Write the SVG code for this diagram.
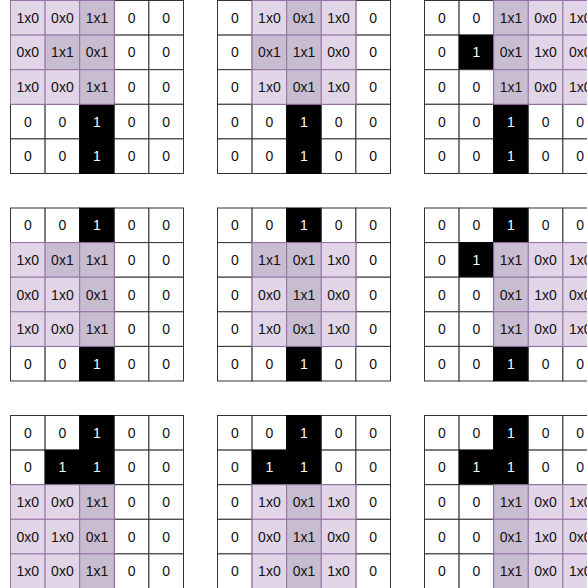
<svg xmlns="http://www.w3.org/2000/svg" width="587" height="588" viewBox="0 0 587 588">
<style>
rect{width:34.6px;height:34.6px;stroke-width:1}
.w{fill:#ffffff;stroke:#333333}
.k{fill:#000000;stroke:#000000}
.p{fill:#e1d5e7;stroke:#9673a6}
.d{fill:#c8bcd0;stroke:#9673a6}
text{font-family:"Liberation Sans",Arial,Helvetica,sans-serif;font-size:14px;text-anchor:middle;fill:#111111}
.tw{fill:#ffffff}
</style>
<rect x="0" y="0" width="587" height="588" style="width:587px;height:588px;fill:#ffffff;stroke:none"/>
<g id="connectors"/>

<g id="grid1" transform="translate(10.5,0.5)">
<rect class="w" x="103.8" y="0"/><rect class="w" x="138.4" y="0"/>
<rect class="w" x="103.8" y="34.6"/><rect class="w" x="138.4" y="34.6"/>
<rect class="w" x="103.8" y="69.2"/><rect class="w" x="138.4" y="69.2"/>
<rect class="w" x="0" y="103.8"/><rect class="w" x="34.6" y="103.8"/><rect class="k" x="69.2" y="103.8"/><rect class="w" x="103.8" y="103.8"/><rect class="w" x="138.4" y="103.8"/>
<rect class="w" x="0" y="138.4"/><rect class="w" x="34.6" y="138.4"/><rect class="k" x="69.2" y="138.4"/><rect class="w" x="103.8" y="138.4"/><rect class="w" x="138.4" y="138.4"/>
<rect class="p" x="0" y="0"/><rect class="p" x="34.6" y="0"/><rect class="d" x="69.2" y="0"/>
<rect class="p" x="0" y="34.6"/><rect class="d" x="34.6" y="34.6"/><rect class="d" x="69.2" y="34.6"/>
<rect class="p" x="0" y="69.2"/><rect class="p" x="34.6" y="69.2"/><rect class="d" x="69.2" y="69.2"/>
<text y="22.3"><tspan x="17.3">1x0</tspan><tspan x="51.9">0x0</tspan><tspan x="86.5">1x1</tspan><tspan x="121.1">0</tspan><tspan x="155.7">0</tspan></text>
<text y="56.9"><tspan x="17.3">0x0</tspan><tspan x="51.9">1x1</tspan><tspan x="86.5">0x1</tspan><tspan x="121.1">0</tspan><tspan x="155.7">0</tspan></text>
<text y="91.5"><tspan x="17.3">1x0</tspan><tspan x="51.9">0x0</tspan><tspan x="86.5">1x1</tspan><tspan x="121.1">0</tspan><tspan x="155.7">0</tspan></text>
<text y="126.1"><tspan x="17.3">0</tspan><tspan x="51.9">0</tspan><tspan x="86.5" class="tw">1</tspan><tspan x="121.1">0</tspan><tspan x="155.7">0</tspan></text>
<text y="160.7"><tspan x="17.3">0</tspan><tspan x="51.9">0</tspan><tspan x="86.5" class="tw">1</tspan><tspan x="121.1">0</tspan><tspan x="155.7">0</tspan></text>
</g>

<g id="grid2" transform="translate(217.5,0.5)">
<rect class="w" x="0" y="0"/><rect class="w" x="138.4" y="0"/>
<rect class="w" x="0" y="34.6"/><rect class="w" x="138.4" y="34.6"/>
<rect class="w" x="0" y="69.2"/><rect class="w" x="138.4" y="69.2"/>
<rect class="w" x="0" y="103.8"/><rect class="w" x="34.6" y="103.8"/><rect class="k" x="69.2" y="103.8"/><rect class="w" x="103.8" y="103.8"/><rect class="w" x="138.4" y="103.8"/>
<rect class="w" x="0" y="138.4"/><rect class="w" x="34.6" y="138.4"/><rect class="k" x="69.2" y="138.4"/><rect class="w" x="103.8" y="138.4"/><rect class="w" x="138.4" y="138.4"/>
<rect class="p" x="34.6" y="0"/><rect class="d" x="69.2" y="0"/><rect class="p" x="103.8" y="0"/>
<rect class="d" x="34.6" y="34.6"/><rect class="d" x="69.2" y="34.6"/><rect class="p" x="103.8" y="34.6"/>
<rect class="p" x="34.6" y="69.2"/><rect class="d" x="69.2" y="69.2"/><rect class="p" x="103.8" y="69.2"/>
<text y="22.3"><tspan x="17.3">0</tspan><tspan x="51.9">1x0</tspan><tspan x="86.5">0x1</tspan><tspan x="121.1">1x0</tspan><tspan x="155.7">0</tspan></text>
<text y="56.9"><tspan x="17.3">0</tspan><tspan x="51.9">0x1</tspan><tspan x="86.5">1x1</tspan><tspan x="121.1">0x0</tspan><tspan x="155.7">0</tspan></text>
<text y="91.5"><tspan x="17.3">0</tspan><tspan x="51.9">1x0</tspan><tspan x="86.5">0x1</tspan><tspan x="121.1">1x0</tspan><tspan x="155.7">0</tspan></text>
<text y="126.1"><tspan x="17.3">0</tspan><tspan x="51.9">0</tspan><tspan x="86.5" class="tw">1</tspan><tspan x="121.1">0</tspan><tspan x="155.7">0</tspan></text>
<text y="160.7"><tspan x="17.3">0</tspan><tspan x="51.9">0</tspan><tspan x="86.5" class="tw">1</tspan><tspan x="121.1">0</tspan><tspan x="155.7">0</tspan></text>
</g>

<g id="grid3" transform="translate(424.5,0.5)">
<rect class="w" x="0" y="0"/><rect class="w" x="34.6" y="0"/>
<rect class="w" x="0" y="34.6"/><rect class="k" x="34.6" y="34.6"/>
<rect class="w" x="0" y="69.2"/><rect class="w" x="34.6" y="69.2"/>
<rect class="w" x="0" y="103.8"/><rect class="w" x="34.6" y="103.8"/><rect class="k" x="69.2" y="103.8"/><rect class="w" x="103.8" y="103.8"/><rect class="w" x="138.4" y="103.8"/>
<rect class="w" x="0" y="138.4"/><rect class="w" x="34.6" y="138.4"/><rect class="k" x="69.2" y="138.4"/><rect class="w" x="103.8" y="138.4"/><rect class="w" x="138.4" y="138.4"/>
<rect class="d" x="69.2" y="0"/><rect class="p" x="103.8" y="0"/><rect class="p" x="138.4" y="0"/>
<rect class="d" x="69.2" y="34.6"/><rect class="p" x="103.8" y="34.6"/><rect class="p" x="138.4" y="34.6"/>
<rect class="d" x="69.2" y="69.2"/><rect class="p" x="103.8" y="69.2"/><rect class="p" x="138.4" y="69.2"/>
<text y="22.3"><tspan x="17.3">0</tspan><tspan x="51.9">0</tspan><tspan x="86.5">1x1</tspan><tspan x="121.1">0x0</tspan><tspan x="155.7">1x0</tspan></text>
<text y="56.9"><tspan x="17.3">0</tspan><tspan x="51.9" class="tw">1</tspan><tspan x="86.5">0x1</tspan><tspan x="121.1">1x0</tspan><tspan x="155.7">0x0</tspan></text>
<text y="91.5"><tspan x="17.3">0</tspan><tspan x="51.9">0</tspan><tspan x="86.5">1x1</tspan><tspan x="121.1">0x0</tspan><tspan x="155.7">1x0</tspan></text>
<text y="126.1"><tspan x="17.3">0</tspan><tspan x="51.9">0</tspan><tspan x="86.5" class="tw">1</tspan><tspan x="121.1">0</tspan><tspan x="155.7">0</tspan></text>
<text y="160.7"><tspan x="17.3">0</tspan><tspan x="51.9">0</tspan><tspan x="86.5" class="tw">1</tspan><tspan x="121.1">0</tspan><tspan x="155.7">0</tspan></text>
</g>

<g id="grid4" transform="translate(10.5,208)">
<rect class="w" x="0" y="0"/><rect class="w" x="34.6" y="0"/><rect class="k" x="69.2" y="0"/><rect class="w" x="103.8" y="0"/><rect class="w" x="138.4" y="0"/>
<rect class="w" x="103.8" y="34.6"/><rect class="w" x="138.4" y="34.6"/>
<rect class="w" x="103.8" y="69.2"/><rect class="w" x="138.4" y="69.2"/>
<rect class="w" x="103.8" y="103.8"/><rect class="w" x="138.4" y="103.8"/>
<rect class="w" x="0" y="138.4"/><rect class="w" x="34.6" y="138.4"/><rect class="k" x="69.2" y="138.4"/><rect class="w" x="103.8" y="138.4"/><rect class="w" x="138.4" y="138.4"/>
<rect class="p" x="0" y="34.6"/><rect class="d" x="34.6" y="34.6"/><rect class="d" x="69.2" y="34.6"/>
<rect class="p" x="0" y="69.2"/><rect class="p" x="34.6" y="69.2"/><rect class="d" x="69.2" y="69.2"/>
<rect class="p" x="0" y="103.8"/><rect class="p" x="34.6" y="103.8"/><rect class="d" x="69.2" y="103.8"/>
<text y="22.3"><tspan x="17.3">0</tspan><tspan x="51.9">0</tspan><tspan x="86.5" class="tw">1</tspan><tspan x="121.1">0</tspan><tspan x="155.7">0</tspan></text>
<text y="56.9"><tspan x="17.3">1x0</tspan><tspan x="51.9">0x1</tspan><tspan x="86.5">1x1</tspan><tspan x="121.1">0</tspan><tspan x="155.7">0</tspan></text>
<text y="91.5"><tspan x="17.3">0x0</tspan><tspan x="51.9">1x0</tspan><tspan x="86.5">0x1</tspan><tspan x="121.1">0</tspan><tspan x="155.7">0</tspan></text>
<text y="126.1"><tspan x="17.3">1x0</tspan><tspan x="51.9">0x0</tspan><tspan x="86.5">1x1</tspan><tspan x="121.1">0</tspan><tspan x="155.7">0</tspan></text>
<text y="160.7"><tspan x="17.3">0</tspan><tspan x="51.9">0</tspan><tspan x="86.5" class="tw">1</tspan><tspan x="121.1">0</tspan><tspan x="155.7">0</tspan></text>
</g>

<g id="grid5" transform="translate(217.5,208)">
<rect class="w" x="0" y="0"/><rect class="w" x="34.6" y="0"/><rect class="k" x="69.2" y="0"/><rect class="w" x="103.8" y="0"/><rect class="w" x="138.4" y="0"/>
<rect class="w" x="0" y="34.6"/><rect class="w" x="138.4" y="34.6"/>
<rect class="w" x="0" y="69.2"/><rect class="w" x="138.4" y="69.2"/>
<rect class="w" x="0" y="103.8"/><rect class="w" x="138.4" y="103.8"/>
<rect class="w" x="0" y="138.4"/><rect class="w" x="34.6" y="138.4"/><rect class="k" x="69.2" y="138.4"/><rect class="w" x="103.8" y="138.4"/><rect class="w" x="138.4" y="138.4"/>
<rect class="d" x="34.6" y="34.6"/><rect class="d" x="69.2" y="34.6"/><rect class="p" x="103.8" y="34.6"/>
<rect class="p" x="34.6" y="69.2"/><rect class="d" x="69.2" y="69.2"/><rect class="p" x="103.8" y="69.2"/>
<rect class="p" x="34.6" y="103.8"/><rect class="d" x="69.2" y="103.8"/><rect class="p" x="103.8" y="103.8"/>
<text y="22.3"><tspan x="17.3">0</tspan><tspan x="51.9">0</tspan><tspan x="86.5" class="tw">1</tspan><tspan x="121.1">0</tspan><tspan x="155.7">0</tspan></text>
<text y="56.9"><tspan x="17.3">0</tspan><tspan x="51.9">1x1</tspan><tspan x="86.5">0x1</tspan><tspan x="121.1">1x0</tspan><tspan x="155.7">0</tspan></text>
<text y="91.5"><tspan x="17.3">0</tspan><tspan x="51.9">0x0</tspan><tspan x="86.5">1x1</tspan><tspan x="121.1">0x0</tspan><tspan x="155.7">0</tspan></text>
<text y="126.1"><tspan x="17.3">0</tspan><tspan x="51.9">1x0</tspan><tspan x="86.5">0x1</tspan><tspan x="121.1">1x0</tspan><tspan x="155.7">0</tspan></text>
<text y="160.7"><tspan x="17.3">0</tspan><tspan x="51.9">0</tspan><tspan x="86.5" class="tw">1</tspan><tspan x="121.1">0</tspan><tspan x="155.7">0</tspan></text>
</g>

<g id="grid6" transform="translate(424.5,208)">
<rect class="w" x="0" y="0"/><rect class="w" x="34.6" y="0"/><rect class="k" x="69.2" y="0"/><rect class="w" x="103.8" y="0"/><rect class="w" x="138.4" y="0"/>
<rect class="w" x="0" y="34.6"/><rect class="k" x="34.6" y="34.6"/>
<rect class="w" x="0" y="69.2"/><rect class="w" x="34.6" y="69.2"/>
<rect class="w" x="0" y="103.8"/><rect class="w" x="34.6" y="103.8"/>
<rect class="w" x="0" y="138.4"/><rect class="w" x="34.6" y="138.4"/><rect class="k" x="69.2" y="138.4"/><rect class="w" x="103.8" y="138.4"/><rect class="w" x="138.4" y="138.4"/>
<rect class="d" x="69.2" y="34.6"/><rect class="p" x="103.8" y="34.6"/><rect class="p" x="138.4" y="34.6"/>
<rect class="d" x="69.2" y="69.2"/><rect class="p" x="103.8" y="69.2"/><rect class="p" x="138.4" y="69.2"/>
<rect class="d" x="69.2" y="103.8"/><rect class="p" x="103.8" y="103.8"/><rect class="p" x="138.4" y="103.8"/>
<text y="22.3"><tspan x="17.3">0</tspan><tspan x="51.9">0</tspan><tspan x="86.5" class="tw">1</tspan><tspan x="121.1">0</tspan><tspan x="155.7">0</tspan></text>
<text y="56.9"><tspan x="17.3">0</tspan><tspan x="51.9" class="tw">1</tspan><tspan x="86.5">1x1</tspan><tspan x="121.1">0x0</tspan><tspan x="155.7">1x0</tspan></text>
<text y="91.5"><tspan x="17.3">0</tspan><tspan x="51.9">0</tspan><tspan x="86.5">0x1</tspan><tspan x="121.1">1x0</tspan><tspan x="155.7">0x0</tspan></text>
<text y="126.1"><tspan x="17.3">0</tspan><tspan x="51.9">0</tspan><tspan x="86.5">1x1</tspan><tspan x="121.1">0x0</tspan><tspan x="155.7">1x0</tspan></text>
<text y="160.7"><tspan x="17.3">0</tspan><tspan x="51.9">0</tspan><tspan x="86.5" class="tw">1</tspan><tspan x="121.1">0</tspan><tspan x="155.7">0</tspan></text>
</g>

<g id="grid7" transform="translate(10.5,415.5)">
<rect class="w" x="0" y="0"/><rect class="w" x="34.6" y="0"/><rect class="k" x="69.2" y="0"/><rect class="w" x="103.8" y="0"/><rect class="w" x="138.4" y="0"/>
<rect class="w" x="0" y="34.6"/><rect class="k" x="34.6" y="34.6"/><rect class="k" x="69.2" y="34.6"/><rect class="w" x="103.8" y="34.6"/><rect class="w" x="138.4" y="34.6"/>
<rect class="w" x="103.8" y="69.2"/><rect class="w" x="138.4" y="69.2"/>
<rect class="w" x="103.8" y="103.8"/><rect class="w" x="138.4" y="103.8"/>
<rect class="w" x="103.8" y="138.4"/><rect class="w" x="138.4" y="138.4"/>
<rect class="p" x="0" y="69.2"/><rect class="p" x="34.6" y="69.2"/><rect class="d" x="69.2" y="69.2"/>
<rect class="p" x="0" y="103.8"/><rect class="p" x="34.6" y="103.8"/><rect class="d" x="69.2" y="103.8"/>
<rect class="p" x="0" y="138.4"/><rect class="p" x="34.6" y="138.4"/><rect class="d" x="69.2" y="138.4"/>
<text y="22.3"><tspan x="17.3">0</tspan><tspan x="51.9">0</tspan><tspan x="86.5" class="tw">1</tspan><tspan x="121.1">0</tspan><tspan x="155.7">0</tspan></text>
<text y="56.9"><tspan x="17.3">0</tspan><tspan x="51.9" class="tw">1</tspan><tspan x="86.5" class="tw">1</tspan><tspan x="121.1">0</tspan><tspan x="155.7">0</tspan></text>
<text y="91.5"><tspan x="17.3">1x0</tspan><tspan x="51.9">0x0</tspan><tspan x="86.5">1x1</tspan><tspan x="121.1">0</tspan><tspan x="155.7">0</tspan></text>
<text y="126.1"><tspan x="17.3">0x0</tspan><tspan x="51.9">1x0</tspan><tspan x="86.5">0x1</tspan><tspan x="121.1">0</tspan><tspan x="155.7">0</tspan></text>
<text y="160.7"><tspan x="17.3">1x0</tspan><tspan x="51.9">0x0</tspan><tspan x="86.5">1x1</tspan><tspan x="121.1">0</tspan><tspan x="155.7">0</tspan></text>
</g>

<g id="grid8" transform="translate(217.5,415.5)">
<rect class="w" x="0" y="0"/><rect class="w" x="34.6" y="0"/><rect class="k" x="69.2" y="0"/><rect class="w" x="103.8" y="0"/><rect class="w" x="138.4" y="0"/>
<rect class="w" x="0" y="34.6"/><rect class="k" x="34.6" y="34.6"/><rect class="k" x="69.2" y="34.6"/><rect class="w" x="103.8" y="34.6"/><rect class="w" x="138.4" y="34.6"/>
<rect class="w" x="0" y="69.2"/><rect class="w" x="138.4" y="69.2"/>
<rect class="w" x="0" y="103.8"/><rect class="w" x="138.4" y="103.8"/>
<rect class="w" x="0" y="138.4"/><rect class="w" x="138.4" y="138.4"/>
<rect class="p" x="34.6" y="69.2"/><rect class="d" x="69.2" y="69.2"/><rect class="p" x="103.8" y="69.2"/>
<rect class="p" x="34.6" y="103.8"/><rect class="d" x="69.2" y="103.8"/><rect class="p" x="103.8" y="103.8"/>
<rect class="p" x="34.6" y="138.4"/><rect class="d" x="69.2" y="138.4"/><rect class="p" x="103.8" y="138.4"/>
<text y="22.3"><tspan x="17.3">0</tspan><tspan x="51.9">0</tspan><tspan x="86.5" class="tw">1</tspan><tspan x="121.1">0</tspan><tspan x="155.7">0</tspan></text>
<text y="56.9"><tspan x="17.3">0</tspan><tspan x="51.9" class="tw">1</tspan><tspan x="86.5" class="tw">1</tspan><tspan x="121.1">0</tspan><tspan x="155.7">0</tspan></text>
<text y="91.5"><tspan x="17.3">0</tspan><tspan x="51.9">1x0</tspan><tspan x="86.5">0x1</tspan><tspan x="121.1">1x0</tspan><tspan x="155.7">0</tspan></text>
<text y="126.1"><tspan x="17.3">0</tspan><tspan x="51.9">0x0</tspan><tspan x="86.5">1x1</tspan><tspan x="121.1">0x0</tspan><tspan x="155.7">0</tspan></text>
<text y="160.7"><tspan x="17.3">0</tspan><tspan x="51.9">1x0</tspan><tspan x="86.5">0x1</tspan><tspan x="121.1">1x0</tspan><tspan x="155.7">0</tspan></text>
</g>

<g id="grid9" transform="translate(424.5,415.5)">
<rect class="w" x="0" y="0"/><rect class="w" x="34.6" y="0"/><rect class="k" x="69.2" y="0"/><rect class="w" x="103.8" y="0"/><rect class="w" x="138.4" y="0"/>
<rect class="w" x="0" y="34.6"/><rect class="k" x="34.6" y="34.6"/><rect class="k" x="69.2" y="34.6"/><rect class="w" x="103.8" y="34.6"/><rect class="w" x="138.4" y="34.6"/>
<rect class="w" x="0" y="69.2"/><rect class="w" x="34.6" y="69.2"/>
<rect class="w" x="0" y="103.8"/><rect class="w" x="34.6" y="103.8"/>
<rect class="w" x="0" y="138.4"/><rect class="w" x="34.6" y="138.4"/>
<rect class="d" x="69.2" y="69.2"/><rect class="p" x="103.8" y="69.2"/><rect class="p" x="138.4" y="69.2"/>
<rect class="d" x="69.2" y="103.8"/><rect class="p" x="103.8" y="103.8"/><rect class="p" x="138.4" y="103.8"/>
<rect class="d" x="69.2" y="138.4"/><rect class="p" x="103.8" y="138.4"/><rect class="p" x="138.4" y="138.4"/>
<text y="22.3"><tspan x="17.3">0</tspan><tspan x="51.9">0</tspan><tspan x="86.5" class="tw">1</tspan><tspan x="121.1">0</tspan><tspan x="155.7">0</tspan></text>
<text y="56.9"><tspan x="17.3">0</tspan><tspan x="51.9" class="tw">1</tspan><tspan x="86.5" class="tw">1</tspan><tspan x="121.1">0</tspan><tspan x="155.7">0</tspan></text>
<text y="91.5"><tspan x="17.3">0</tspan><tspan x="51.9">0</tspan><tspan x="86.5">1x1</tspan><tspan x="121.1">0x0</tspan><tspan x="155.7">1x0</tspan></text>
<text y="126.1"><tspan x="17.3">0</tspan><tspan x="51.9">0</tspan><tspan x="86.5">0x1</tspan><tspan x="121.1">1x0</tspan><tspan x="155.7">0x0</tspan></text>
<text y="160.7"><tspan x="17.3">0</tspan><tspan x="51.9">0</tspan><tspan x="86.5">1x1</tspan><tspan x="121.1">0x0</tspan><tspan x="155.7">1x0</tspan></text>
</g>
</svg>
